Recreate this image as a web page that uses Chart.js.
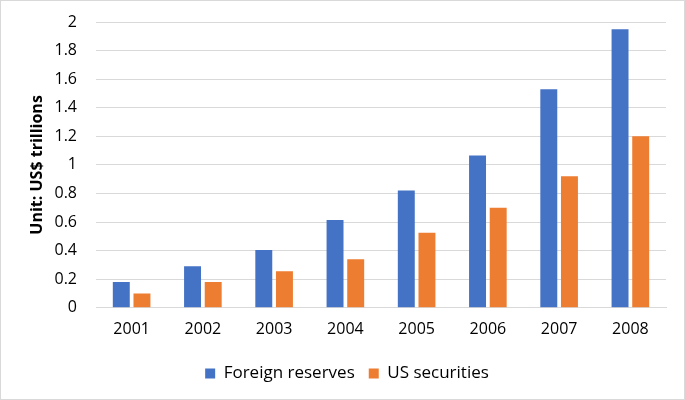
<!DOCTYPE html>
<html><head><meta charset="utf-8">
<script src="https://cdn.jsdelivr.net/npm/chart.js@4/dist/chart.umd.min.js"></script>
<style>
html,body{margin:0;padding:0;background:#fff;}
#wrap{position:absolute;left:0;top:0;width:683px;height:398px;border:1px solid #d9d9d9;}
</style></head>
<body><div id="wrap"><canvas id="c" width="683" height="398"></canvas></div>
<script>
const categories = ["2001","2002","2003","2004","2005","2006","2007","2008"];
const foreignReserves = [0.18, 0.29, 0.405, 0.615, 0.82, 1.065, 1.53, 1.95];
const usSecurities = [0.10, 0.18, 0.255, 0.34, 0.525, 0.70, 0.92, 1.20];
const seriesNames = ["Foreign reserves", "US securities"];
const yTitle = "Unit: US$ trillions";

Chart.defaults.font.family = "'Open Sans', 'Liberation Sans', sans-serif";
Chart.defaults.color = "#000";
new Chart(document.getElementById('c'), {
  type: 'bar',
  data: {
    labels: categories,
    datasets: [
      {label: seriesNames[0], data: foreignReserves, backgroundColor: '#4472C4', categoryPercentage: 0.58, barPercentage: 0.82},
      {label: seriesNames[1], data: usSecurities, backgroundColor: '#ED7D31', categoryPercentage: 0.58, barPercentage: 0.82}
    ]
  },
  options: {
    responsive: false,
    animation: false,
    layout: {padding: {left: 27, right: 18, top: 0, bottom: 7}},
    plugins: {
      legend: {position: 'bottom', labels: {boxWidth: 10, boxHeight: 10, padding: 14, font: {size: 17}}},
      tooltip: {enabled: false}
    },
    scales: {
      x: {
        grid: {display: false, drawTicks: false},
        border: {color: '#d9d9d9'},
        ticks: {font: {size: 16}, padding: 12}
      },
      y: {
        min: 0, max: 2,
        afterFit: s => { s.width = 68; s.paddingTop = 21; s.paddingBottom = 8; },
        ticks: {stepSize: 0.2, font: {size: 16, lineHeight: 1}, padding: 19,
          callback: v => String(Math.round(v*10)/10)},
        grid: {color: '#d9d9d9', drawTicks: false},
        border: {display: false},
        title: {display: true, text: yTitle, font: {size: 16, weight: 'bold'}, padding: {top: 0, bottom: 0}}
      }
    }
  }
});
</script></body></html>
